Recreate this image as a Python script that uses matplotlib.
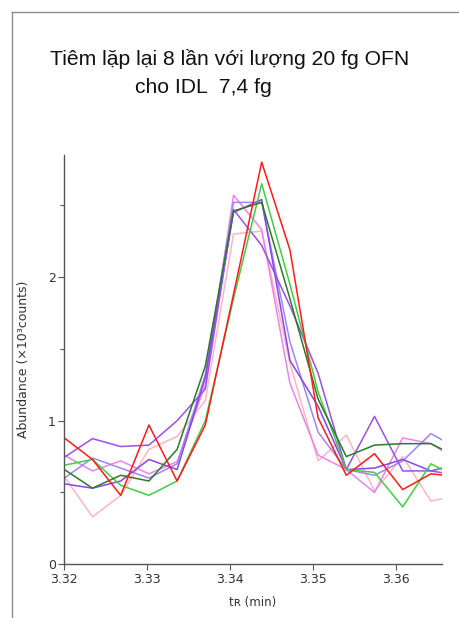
import matplotlib
matplotlib.use("Agg")
import matplotlib.pyplot as plt
from matplotlib.lines import Line2D
from matplotlib.ticker import MultipleLocator

# retention time of each scan (min)
tr = [3.3200, 3.3234, 3.3268, 3.3302, 3.3336, 3.3370, 3.3404, 3.3438,
      3.3472, 3.3506, 3.3540, 3.3574, 3.3608, 3.3642, 3.3676]

# abundance of the 8 injections (x10^3 counts)
inj_red = [0.88, 0.73, 0.48, 0.97, 0.58, 0.97, 1.88, 2.80, 2.19, 1.02, 0.62, 0.77, 0.52, 0.63, 0.61]
inj_green = [0.69, 0.73, 0.55, 0.48, 0.58, 1.00, 1.85, 2.65, 1.95, 1.20, 0.66, 0.64, 0.40, 0.70, 0.60]
inj_darkgreen = [0.66, 0.53, 0.62, 0.58, 0.80, 1.38, 2.46, 2.52, 1.85, 1.15, 0.75, 0.83, 0.84, 0.84, 0.74]
inj_violet1 = [0.745, 0.875, 0.82, 0.83, 1.00, 1.22, 2.47, 2.22, 1.80, 1.33, 0.66, 1.03, 0.65, 0.65, 0.62]
inj_violet2 = [0.56, 0.53, 0.58, 0.73, 0.66, 1.30, 2.45, 2.54, 1.42, 1.10, 0.66, 0.67, 0.73, 0.65, 0.70]
inj_lavender = [0.60, 0.74, 0.67, 0.60, 0.70, 1.32, 2.52, 2.52, 1.55, 0.92, 0.66, 0.62, 0.72, 0.91, 0.80]
inj_orchid = [0.76, 0.65, 0.72, 0.63, 0.715, 1.25, 2.57, 2.33, 1.26, 0.76, 0.66, 0.50, 0.88, 0.84, 0.72]
inj_pink = [0.61, 0.33, 0.48, 0.80, 0.89, 1.14, 2.30, 2.32, 1.40, 0.72, 0.90, 0.51, 0.75, 0.44, 0.48]

series = [
    (inj_pink, '#ffb6c1'),
    (inj_orchid, '#ee82ee'),
    (inj_lavender, '#9d86f0'),
    (inj_violet2, '#8a44e6'),
    (inj_violet1, '#9b50ea'),
    (inj_green, '#44cc44'),
    (inj_darkgreen, '#2a7a2a'),
    (inj_red, '#ff1a1a'),
]

fig = plt.figure(figsize=(4.59, 6.18), dpi=100)

# outer frame (only top and left edges show)
fig.add_artist(Line2D([12 / 459, 12 / 459], [0, 1 - 12 / 618], transform=fig.transFigure,
                      color='#8c8c8c', lw=1.0))
fig.add_artist(Line2D([12 / 459, 1], [1 - 12 / 618, 1 - 12 / 618], transform=fig.transFigure,
                      color='#8c8c8c', lw=1.0))

fig.text(229.5 / 459, 1 - 65 / 618, 'Tiêm lặp lại 8 lần với lượng 20 fg OFN',
         family='Liberation Sans', fontsize=15.2, color='#111111', ha='center', va='baseline')
fig.text(135 / 459, 1 - 93 / 618, 'cho IDL  7,4 fg',
         family='Liberation Sans', fontsize=15.2, color='#111111', ha='left', va='baseline')

ax = fig.add_axes([64.3 / 459, 53.7 / 618, 377.4 / 459, 409.3 / 618])
for vals, col in series:
    ax.plot(tr, vals, color=col, lw=1.1)

ax.set_xlim(3.32, 3.3655)
ax.set_ylim(0, 2.85)
ax.yaxis.set_minor_locator(MultipleLocator(0.5))
ax.set_xticks([3.32, 3.33, 3.34, 3.35, 3.36])
ax.set_xticklabels(['3.32', '3.33', '3.34', '3.35', '3.36'])
ax.set_yticks([0, 1, 2])
ax.set_yticklabels(['0', '1', '2'])

for s in ['top', 'right']:
    ax.spines[s].set_visible(False)
for s in ['left', 'bottom']:
    ax.spines[s].set_color('#555555')
    ax.spines[s].set_linewidth(1.0)
ax.tick_params(axis='both', which='major', length=4, width=0.8, color='#555555',
               labelsize=9, labelcolor='#333333', pad=2)
ax.tick_params(axis='y', which='minor', length=3, width=0.8, color='#555555')
ax.tick_params(axis='x', which='minor', length=0)

ax.set_ylabel('Abundance (×10³counts)', fontsize=9, color='#333333')
ax.yaxis.set_label_coords(-0.09, 0.5)
ax.set_xlabel('tʀ (min)', fontsize=8.5, color='#333333')
ax.xaxis.set_label_coords(0.5, -0.078)

fig.savefig('out.png', dpi=100)
